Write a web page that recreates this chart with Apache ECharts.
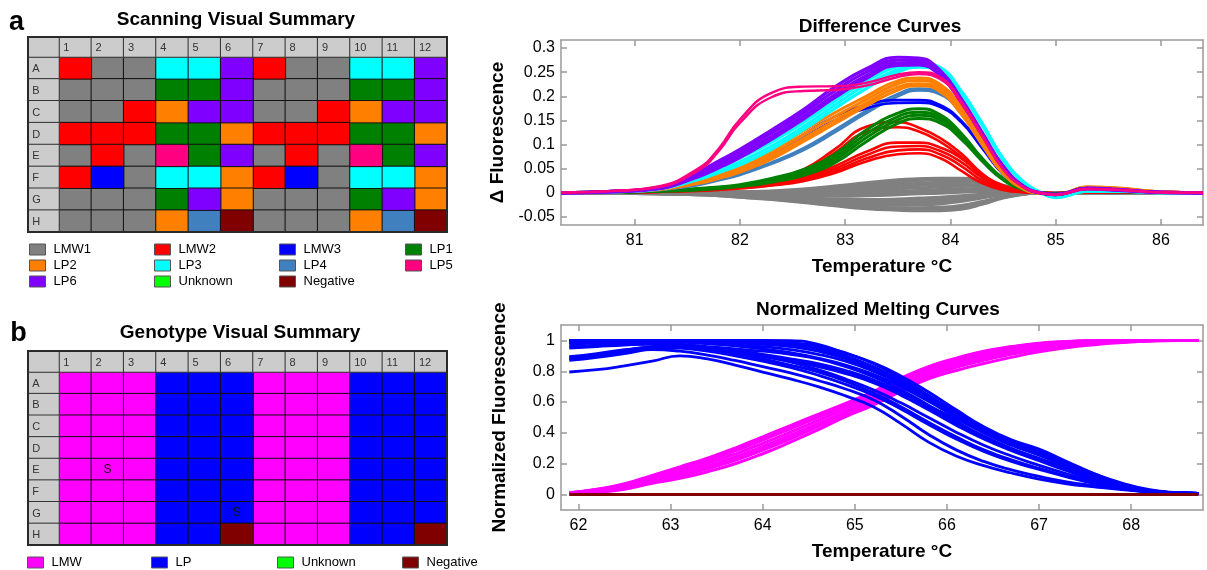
<!DOCTYPE html>
<html>
<head>
<meta charset="utf-8">
<title>Scanning and genotyping summary</title>
<script src="https://cdn.jsdelivr.net/npm/echarts@6/dist/echarts.min.js"></script>
<style>
  html, body { margin: 0; padding: 0; background: #fff; }
  #chart { width: 1207px; height: 570px; }
</style>
</head>
<body>
<div id="chart"></div>
<script>
// plate layout
const plateRows = ['A', 'B', 'C', 'D', 'E', 'F', 'G', 'H'];
const plateCols = ['1', '2', '3', '4', '5', '6', '7', '8', '9', '10', '11', '12'];

// panel a: scanning groups per well
const scanGroups = ['LMW1', 'LMW2', 'LMW3', 'LP1', 'LP2', 'LP3', 'LP4', 'LP5', 'LP6', 'Unknown', 'Negative'];
const scanPlate = [
  ['LMW2', 'LMW1', 'LMW1', 'LP3', 'LP3', 'LP6', 'LMW2', 'LMW1', 'LMW1', 'LP3', 'LP3', 'LP6'],
  ['LMW1', 'LMW1', 'LMW1', 'LP1', 'LP1', 'LP6', 'LMW1', 'LMW1', 'LMW1', 'LP1', 'LP1', 'LP6'],
  ['LMW1', 'LMW1', 'LMW2', 'LP2', 'LP6', 'LP6', 'LMW1', 'LMW1', 'LMW2', 'LP2', 'LP6', 'LP6'],
  ['LMW2', 'LMW2', 'LMW2', 'LP1', 'LP1', 'LP2', 'LMW2', 'LMW2', 'LMW2', 'LP1', 'LP1', 'LP2'],
  ['LMW1', 'LMW2', 'LMW1', 'LP5', 'LP1', 'LP6', 'LMW1', 'LMW2', 'LMW1', 'LP5', 'LP1', 'LP6'],
  ['LMW2', 'LMW3', 'LMW1', 'LP3', 'LP3', 'LP2', 'LMW2', 'LMW3', 'LMW1', 'LP3', 'LP3', 'LP2'],
  ['LMW1', 'LMW1', 'LMW1', 'LP1', 'LP6', 'LP2', 'LMW1', 'LMW1', 'LMW1', 'LP1', 'LP6', 'LP2'],
  ['LMW1', 'LMW1', 'LMW1', 'LP2', 'LP4', 'Negative', 'LMW1', 'LMW1', 'LMW1', 'LP2', 'LP4', 'Negative']
];
const scanLegendCols = [['LMW1', 'LP2', 'LP6'], ['LMW2', 'LP3', 'Unknown'], ['LMW3', 'LP4', 'Negative'], ['LP1', 'LP5']];

// panel b: genotype calls per well
const genoGroups = ['LMW', 'LP', 'Unknown', 'Negative'];
const genoPlate = [
  ['LMW', 'LMW', 'LMW', 'LP', 'LP', 'LP', 'LMW', 'LMW', 'LMW', 'LP', 'LP', 'LP'],
  ['LMW', 'LMW', 'LMW', 'LP', 'LP', 'LP', 'LMW', 'LMW', 'LMW', 'LP', 'LP', 'LP'],
  ['LMW', 'LMW', 'LMW', 'LP', 'LP', 'LP', 'LMW', 'LMW', 'LMW', 'LP', 'LP', 'LP'],
  ['LMW', 'LMW', 'LMW', 'LP', 'LP', 'LP', 'LMW', 'LMW', 'LMW', 'LP', 'LP', 'LP'],
  ['LMW', 'LMW', 'LMW', 'LP', 'LP', 'LP', 'LMW', 'LMW', 'LMW', 'LP', 'LP', 'LP'],
  ['LMW', 'LMW', 'LMW', 'LP', 'LP', 'LP', 'LMW', 'LMW', 'LMW', 'LP', 'LP', 'LP'],
  ['LMW', 'LMW', 'LMW', 'LP', 'LP', 'LP', 'LMW', 'LMW', 'LMW', 'LP', 'LP', 'LP'],
  ['LMW', 'LMW', 'LMW', 'LP', 'LP', 'Negative', 'LMW', 'LMW', 'LMW', 'LP', 'LP', 'Negative']
];
const genoFlags = [['E', '2', 'S'], ['G', '6', 'S']];
const genoLegend = [['LMW'], ['LP'], ['Unknown'], ['Negative']];

// difference curves (delta fluorescence vs temperature)
const diffTemps = [80.3, 80.8, 81.2, 81.6, 81.8, 82.0, 82.3, 82.6, 82.9, 83.2, 83.5, 83.7, 83.9, 84.1, 84.3, 84.5, 84.7, 84.85, 85.0, 85.3, 85.6, 86.0, 86.4];
const lmw1Diff = [
  [0, 0, 0.001, 0.001, 0.002, 0.002, 0.004, 0.008, 0.014, 0.021, 0.027, 0.029, 0.03, 0.03, 0.027, 0.016, 0.005, 0, 0, 0.002, 0.001, 0, 0],
  [0, 0, 0.001, 0.001, 0.002, 0.002, 0.003, 0.006, 0.012, 0.018, 0.025, 0.028, 0.029, 0.029, 0.026, 0.015, 0.004, 0, 0, 0.002, 0.001, 0, 0],
  [0, 0, 0.001, 0.001, 0.001, 0.001, 0.002, 0.005, 0.01, 0.016, 0.022, 0.025, 0.027, 0.027, 0.024, 0.014, 0.004, 0, 0, 0.001, 0.001, 0, 0],
  [0, 0, 0, 0, 0, 0, 0.001, 0.003, 0.007, 0.012, 0.017, 0.02, 0.022, 0.023, 0.02, 0.011, 0.003, 0, 0, 0.001, 0.001, 0, 0],
  [0, 0, 0, 0, 0.001, 0.001, 0.001, 0.002, 0.004, 0.008, 0.012, 0.015, 0.017, 0.018, 0.015, 0.008, 0.002, 0, 0, 0.001, 0, 0, 0],
  [0, 0, 0, 0, 0, -0.001, -0.001, 0, 0.001, 0.004, 0.008, 0.01, 0.012, 0.014, 0.012, 0.006, 0.002, 0, 0, 0.001, 0, 0, 0],
  [0, 0, 0, -0.001, -0.001, -0.002, -0.003, -0.003, -0.002, 0, 0.003, 0.005, 0.007, 0.009, 0.008, 0.004, 0.001, 0, 0, 0.001, 0, 0, 0],
  [0, 0, -0.001, -0.002, -0.002, -0.003, -0.004, -0.005, -0.004, -0.003, 0, 0.002, 0.003, 0.005, 0.005, 0.003, 0.001, 0, 0, 0, 0, 0, 0],
  [0, 0, -0.001, -0.002, -0.003, -0.004, -0.005, -0.006, -0.007, -0.006, -0.004, -0.002, -0.001, 0.001, 0.002, 0.001, 0, 0, 0, 0, 0, 0, 0],
  [0, 0, -0.001, -0.002, -0.003, -0.005, -0.007, -0.01, -0.013, -0.014, -0.013, -0.011, -0.009, -0.006, -0.003, 0, 0, 0, 0, 0, 0, 0, 0],
  [0, 0, -0.001, -0.002, -0.004, -0.005, -0.008, -0.011, -0.015, -0.017, -0.017, -0.015, -0.013, -0.009, -0.005, -0.001, 0, 0, 0, 0, 0, 0, 0],
  [0, 0, -0.001, -0.003, -0.004, -0.006, -0.009, -0.013, -0.017, -0.02, -0.02, -0.019, -0.016, -0.012, -0.007, -0.002, 0, 0, 0, 0, 0, 0, 0],
  [0, -0.001, -0.002, -0.003, -0.005, -0.007, -0.01, -0.014, -0.019, -0.022, -0.023, -0.022, -0.02, -0.015, -0.009, -0.003, 0, 0, 0, 0, 0, 0, 0],
  [0, 0, -0.001, -0.003, -0.005, -0.007, -0.011, -0.016, -0.021, -0.025, -0.026, -0.025, -0.023, -0.018, -0.011, -0.004, -0.001, 0, 0, 0, 0, 0, 0],
  [0, -0.001, -0.002, -0.004, -0.005, -0.008, -0.012, -0.018, -0.024, -0.029, -0.031, -0.031, -0.03, -0.026, -0.018, -0.008, -0.002, 0, 0, 0, 0, 0, 0],
  [0, -0.001, -0.002, -0.004, -0.006, -0.009, -0.013, -0.019, -0.026, -0.031, -0.034, -0.034, -0.034, -0.03, -0.021, -0.01, -0.003, 0, 0, 0, 0, 0, 0],
  [0, -0.001, -0.002, -0.004, -0.006, -0.009, -0.014, -0.02, -0.027, -0.033, -0.036, -0.037, -0.037, -0.034, -0.024, -0.011, -0.003, 0, 0, 0, 0, 0, 0]
];
const lmw2Diff = [
  [0, 0.001, 0.003, 0.007, 0.01, 0.014, 0.026, 0.048, 0.09, 0.137, 0.147, 0.135, 0.114, 0.082, 0.04, 0.012, 0.002, 0, -0.001, 0.002, 0.001, 0, 0],
  [0, 0.001, 0.003, 0.006, 0.009, 0.013, 0.024, 0.044, 0.083, 0.126, 0.136, 0.127, 0.106, 0.075, 0.036, 0.011, 0.002, 0, -0.001, 0.002, 0.001, 0, 0],
  [0, 0.001, 0.003, 0.006, 0.009, 0.012, 0.02, 0.032, 0.055, 0.085, 0.104, 0.104, 0.094, 0.072, 0.038, 0.015, 0.004, 0.001, -0.001, 0.002, 0.001, 0, 0],
  [0, 0.001, 0.002, 0.005, 0.008, 0.011, 0.018, 0.029, 0.05, 0.078, 0.096, 0.097, 0.087, 0.064, 0.032, 0.012, 0.003, 0.001, -0.001, 0.002, 0.001, 0, 0],
  [0, 0.001, 0.002, 0.005, 0.007, 0.01, 0.016, 0.026, 0.045, 0.071, 0.088, 0.09, 0.08, 0.056, 0.026, 0.009, 0.002, 0, -0.001, 0.002, 0.001, 0, 0],
  [0, 0.001, 0.002, 0.004, 0.006, 0.009, 0.015, 0.024, 0.041, 0.065, 0.08, 0.082, 0.072, 0.046, 0.02, 0.006, 0.001, 0, -0.001, 0.001, 0.001, 0, 0]
];
const lp1Diff = [
  [0, 0.002, 0.004, 0.009, 0.012, 0.017, 0.03, 0.048, 0.08, 0.13, 0.165, 0.174, 0.162, 0.124, 0.072, 0.03, 0.007, 0, -0.002, 0.004, 0.003, 0.001, 0],
  [0, 0.001, 0.004, 0.008, 0.011, 0.015, 0.027, 0.044, 0.074, 0.122, 0.158, 0.167, 0.156, 0.12, 0.07, 0.029, 0.007, 0, -0.002, 0.004, 0.003, 0.001, 0],
  [0, 0.001, 0.003, 0.007, 0.01, 0.014, 0.024, 0.04, 0.068, 0.114, 0.151, 0.161, 0.151, 0.116, 0.068, 0.028, 0.006, 0, -0.002, 0.003, 0.003, 0.001, 0],
  [0, 0.001, 0.003, 0.006, 0.009, 0.013, 0.022, 0.036, 0.062, 0.106, 0.144, 0.154, 0.145, 0.112, 0.066, 0.027, 0.006, 0, -0.002, 0.003, 0.002, 0.001, 0]
];
const lp4Diff = [
  [0, 0.002, 0.006, 0.018, 0.028, 0.04, 0.063, 0.092, 0.13, 0.17, 0.205, 0.216, 0.207, 0.166, 0.102, 0.041, 0.008, -0.001, -0.004, 0.009, 0.008, 0.002, 0],
  [0, 0.002, 0.005, 0.016, 0.026, 0.037, 0.06, 0.088, 0.125, 0.165, 0.2, 0.212, 0.204, 0.164, 0.1, 0.04, 0.008, -0.001, -0.004, 0.009, 0.007, 0.002, 0]
];
const lmw3Diff = [
  [0, 0.002, 0.007, 0.022, 0.035, 0.05, 0.08, 0.12, 0.158, 0.182, 0.192, 0.192, 0.182, 0.15, 0.095, 0.04, 0.008, -0.001, -0.003, 0.006, 0.005, 0.001, 0],
  [0, 0.002, 0.006, 0.02, 0.032, 0.046, 0.075, 0.113, 0.15, 0.175, 0.186, 0.187, 0.178, 0.147, 0.093, 0.039, 0.008, -0.001, -0.003, 0.006, 0.005, 0.001, 0]
];
const lp2Diff = [
  [0, 0.003, 0.009, 0.027, 0.041, 0.058, 0.088, 0.128, 0.166, 0.2, 0.232, 0.238, 0.225, 0.178, 0.11, 0.045, 0.009, -0.001, -0.005, 0.012, 0.01, 0.002, 0],
  [0, 0.003, 0.008, 0.024, 0.037, 0.052, 0.082, 0.12, 0.158, 0.193, 0.226, 0.233, 0.22, 0.172, 0.106, 0.043, 0.008, -0.001, -0.005, 0.012, 0.009, 0.002, 0],
  [0, 0.002, 0.007, 0.021, 0.033, 0.047, 0.076, 0.112, 0.15, 0.186, 0.219, 0.226, 0.214, 0.167, 0.103, 0.041, 0.008, -0.001, -0.004, 0.011, 0.009, 0.002, 0],
  [0, 0.002, 0.006, 0.019, 0.03, 0.043, 0.07, 0.106, 0.143, 0.18, 0.213, 0.222, 0.21, 0.164, 0.1, 0.04, 0.007, -0.001, -0.004, 0.011, 0.008, 0.002, 0]
];
const lp3Diff = [
  [0, 0.003, 0.009, 0.035, 0.052, 0.072, 0.105, 0.145, 0.19, 0.232, 0.262, 0.27, 0.26, 0.212, 0.145, 0.072, 0.022, 0.002, -0.009, 0.004, 0.004, 0, 0],
  [0, 0.002, 0.008, 0.03, 0.046, 0.064, 0.097, 0.137, 0.182, 0.224, 0.256, 0.265, 0.256, 0.209, 0.143, 0.07, 0.021, 0.001, -0.01, 0.003, 0.003, 0, 0],
  [0, 0.002, 0.007, 0.027, 0.042, 0.058, 0.09, 0.13, 0.174, 0.216, 0.25, 0.26, 0.252, 0.206, 0.14, 0.068, 0.02, 0.001, -0.009, 0.003, 0.003, 0, 0]
];
const lp6Diff = [
  [0, 0.003, 0.01, 0.044, 0.066, 0.09, 0.13, 0.172, 0.219, 0.257, 0.281, 0.279, 0.254, 0.196, 0.126, 0.056, 0.013, 0, -0.004, 0.01, 0.007, 0.001, 0],
  [0, 0.003, 0.009, 0.04, 0.061, 0.084, 0.124, 0.165, 0.211, 0.25, 0.275, 0.274, 0.25, 0.193, 0.124, 0.055, 0.012, 0, -0.004, 0.009, 0.006, 0.001, 0],
  [0, 0.003, 0.008, 0.036, 0.056, 0.078, 0.117, 0.158, 0.203, 0.243, 0.269, 0.269, 0.246, 0.19, 0.122, 0.054, 0.012, 0, -0.004, 0.009, 0.006, 0.001, 0],
  [0, 0.002, 0.008, 0.033, 0.052, 0.073, 0.111, 0.152, 0.197, 0.237, 0.264, 0.265, 0.243, 0.188, 0.12, 0.053, 0.012, 0, -0.003, 0.008, 0.005, 0.001, 0]
];
const lp5Diff = [
  [0, 0.004, 0.012, 0.05, 0.092, 0.152, 0.207, 0.22, 0.221, 0.228, 0.245, 0.25, 0.24, 0.19, 0.12, 0.05, 0.011, 0, -0.004, 0.008, 0.006, 0.001, 0],
  [0, 0.004, 0.011, 0.046, 0.087, 0.145, 0.198, 0.211, 0.213, 0.222, 0.24, 0.246, 0.236, 0.187, 0.118, 0.049, 0.011, 0, -0.004, 0.008, 0.006, 0.001, 0]
];
const diffTicksX = [81, 82, 83, 84, 85, 86];
const diffTicksY = [-0.05, 0, 0.05, 0.1, 0.15, 0.2, 0.25, 0.3];

// normalized melting curves
const meltTemps = [61.9, 62.2, 62.5, 62.8, 63.1, 63.4, 63.7, 64.0, 64.3, 64.6, 64.9, 65.2, 65.5, 65.8, 66.1, 66.4, 66.7, 67.0, 67.3, 67.6, 67.9, 68.2, 68.5, 68.73];
const lmwMelt = [
  [0.012, 0.035, 0.07, 0.125, 0.18, 0.237, 0.302, 0.375, 0.448, 0.52, 0.592, 0.668, 0.755, 0.83, 0.885, 0.93, 0.96, 0.982, 0.993, 0.998, 1, 1, 1, 1],
  [0.01, 0.033, 0.066, 0.12, 0.173, 0.228, 0.292, 0.364, 0.437, 0.51, 0.583, 0.659, 0.746, 0.822, 0.878, 0.925, 0.956, 0.979, 0.991, 0.997, 1, 1, 1, 1],
  [0.011, 0.031, 0.063, 0.115, 0.166, 0.22, 0.283, 0.353, 0.426, 0.5, 0.574, 0.65, 0.737, 0.814, 0.872, 0.92, 0.952, 0.976, 0.99, 0.997, 1, 1, 1, 1],
  [0.009, 0.027, 0.056, 0.104, 0.152, 0.203, 0.263, 0.332, 0.405, 0.48, 0.556, 0.632, 0.72, 0.798, 0.86, 0.907, 0.942, 0.968, 0.984, 0.993, 0.998, 1, 1, 1],
  [0.008, 0.023, 0.049, 0.094, 0.138, 0.186, 0.245, 0.312, 0.385, 0.46, 0.538, 0.614, 0.703, 0.782, 0.845, 0.893, 0.93, 0.959, 0.978, 0.99, 0.996, 0.999, 1, 1],
  [0.007, 0.021, 0.045, 0.088, 0.13, 0.177, 0.233, 0.3, 0.373, 0.45, 0.529, 0.605, 0.694, 0.774, 0.835, 0.882, 0.92, 0.951, 0.972, 0.985, 0.994, 0.998, 1, 1],
  [0.006, 0.019, 0.042, 0.083, 0.121, 0.167, 0.222, 0.288, 0.362, 0.44, 0.52, 0.597, 0.686, 0.766, 0.825, 0.871, 0.91, 0.943, 0.966, 0.981, 0.991, 0.997, 1, 1],
  [0.005, 0.015, 0.035, 0.073, 0.105, 0.148, 0.2, 0.265, 0.34, 0.42, 0.505, 0.58, 0.67, 0.75, 0.805, 0.85, 0.89, 0.926, 0.953, 0.972, 0.986, 0.996, 1, 1]
];
const lpMelt = [
  [1, 1, 1, 1, 1, 1, 1, 1, 0.998, 0.975, 0.915, 0.855, 0.77, 0.665, 0.55, 0.44, 0.355, 0.295, 0.215, 0.135, 0.07, 0.028, 0.012, 0.008],
  [1, 1, 1, 1, 1, 1, 0.998, 0.993, 0.985, 0.965, 0.92, 0.85, 0.755, 0.645, 0.535, 0.43, 0.345, 0.28, 0.205, 0.13, 0.066, 0.027, 0.012, 0.008],
  [0.99, 0.995, 1, 1, 1, 0.998, 0.995, 0.99, 0.98, 0.955, 0.9, 0.83, 0.74, 0.635, 0.525, 0.42, 0.335, 0.27, 0.195, 0.12, 0.062, 0.025, 0.011, 0.008],
  [1, 1, 1, 1, 0.998, 0.995, 0.99, 0.985, 0.972, 0.945, 0.895, 0.825, 0.735, 0.63, 0.52, 0.42, 0.335, 0.268, 0.195, 0.122, 0.063, 0.026, 0.011, 0.008],
  [0.995, 1, 1, 1, 0.995, 0.99, 0.985, 0.975, 0.96, 0.93, 0.88, 0.81, 0.72, 0.62, 0.515, 0.415, 0.33, 0.26, 0.185, 0.11, 0.058, 0.024, 0.011, 0.008],
  [1, 1, 1, 0.995, 0.99, 0.98, 0.97, 0.96, 0.94, 0.91, 0.865, 0.8, 0.715, 0.615, 0.51, 0.41, 0.33, 0.265, 0.19, 0.115, 0.06, 0.025, 0.011, 0.008],
  [0.985, 0.99, 0.995, 0.995, 0.99, 0.98, 0.965, 0.945, 0.92, 0.885, 0.84, 0.78, 0.7, 0.605, 0.5, 0.4, 0.32, 0.255, 0.18, 0.108, 0.056, 0.023, 0.011, 0.008],
  [0.975, 0.985, 0.99, 0.985, 0.975, 0.96, 0.945, 0.93, 0.91, 0.88, 0.83, 0.765, 0.68, 0.58, 0.475, 0.38, 0.3, 0.235, 0.17, 0.105, 0.055, 0.022, 0.01, 0.008],
  [0.96, 0.97, 0.98, 0.98, 0.97, 0.955, 0.935, 0.91, 0.88, 0.85, 0.805, 0.745, 0.665, 0.565, 0.465, 0.37, 0.29, 0.225, 0.16, 0.1, 0.052, 0.021, 0.01, 0.008],
  [1, 1, 0.995, 0.985, 0.97, 0.95, 0.925, 0.9, 0.87, 0.835, 0.79, 0.735, 0.66, 0.575, 0.49, 0.405, 0.33, 0.27, 0.205, 0.135, 0.075, 0.032, 0.013, 0.008],
  [0.95, 0.96, 0.97, 0.975, 0.965, 0.945, 0.92, 0.895, 0.865, 0.83, 0.785, 0.725, 0.645, 0.55, 0.45, 0.36, 0.285, 0.22, 0.155, 0.095, 0.05, 0.02, 0.01, 0.008],
  [0.89, 0.91, 0.935, 0.96, 0.97, 0.955, 0.93, 0.9, 0.86, 0.81, 0.75, 0.68, 0.595, 0.5, 0.405, 0.32, 0.25, 0.19, 0.135, 0.085, 0.045, 0.019, 0.01, 0.008],
  [0.895, 0.915, 0.94, 0.955, 0.95, 0.93, 0.9, 0.865, 0.825, 0.775, 0.715, 0.645, 0.555, 0.455, 0.36, 0.28, 0.215, 0.163, 0.115, 0.072, 0.039, 0.017, 0.009, 0.008],
  [0.87, 0.89, 0.915, 0.945, 0.955, 0.94, 0.915, 0.88, 0.84, 0.795, 0.735, 0.66, 0.57, 0.47, 0.375, 0.29, 0.225, 0.17, 0.12, 0.075, 0.04, 0.017, 0.009, 0.008],
  [0.88, 0.9, 0.925, 0.94, 0.93, 0.905, 0.87, 0.83, 0.79, 0.74, 0.685, 0.615, 0.51, 0.39, 0.29, 0.215, 0.16, 0.118, 0.083, 0.058, 0.036, 0.02, 0.011, 0.008],
  [0.795, 0.81, 0.835, 0.865, 0.9, 0.88, 0.84, 0.795, 0.75, 0.7, 0.64, 0.57, 0.46, 0.34, 0.25, 0.188, 0.14, 0.1, 0.07, 0.05, 0.032, 0.018, 0.01, 0.008]
];
const negMelt = [
  [0, 0, 0, 0, 0, 0, 0, 0, 0, 0, 0, 0, 0, 0, 0, 0, 0, 0, 0, 0, 0, 0, 0, 0]
];
const meltTicksX = [62, 63, 64, 65, 66, 67, 68];
const meltTicksY = [0, 0.2, 0.4, 0.6, 0.8, 1];

const FONT = "'Liberation Sans', Arial, Helvetica, sans-serif";
const groupColors = {
  LMW1: '#808080', LMW2: '#ff0000', LMW3: '#0000ff', LP1: '#008000', LP2: '#ff8000',
  LP3: '#00ffff', LP4: '#4080bf', LP5: '#ff0080', LP6: '#8000ff', Unknown: '#00ff00',
  Negative: '#800000', LMW: '#ff00ff', LP: '#0000ff'
};

const grids = [];
const xAxes = [];
const yAxes = [];
const series = [];
const legends = [];

// ---- line panels: grid 0 (difference), grid 1 (normalized) ----
function frameAxis(gridIndex, range, ticks, position, extra) {
  return Object.assign({
    type: 'value', gridIndex: gridIndex, min: range[0], max: range[1], position: position,
    axisLine: { show: true, onZero: false, lineStyle: { color: '#999', width: 1.5 } },
    axisTick: { show: true, inside: true, length: 6, customValues: ticks, lineStyle: { color: '#999', width: 1.5 } },
    axisLabel: { show: false },
    splitLine: { show: false },
    axisPointer: { show: false }
  }, extra || {});
}
function tickLabels(ticks, margin) {
  return { show: true, customValues: ticks, margin: margin, color: '#000', fontSize: 16, fontFamily: FONT };
}
const nameStyle = { color: '#000', fontSize: 19, fontWeight: 'bold', fontFamily: FONT };

function addLinePanel(box, xRange, yRange, xTicks, yTicks, yName) {
  const gi = grids.length;
  grids.push(Object.assign({ outerBoundsMode: 'none', containLabel: false }, box));
  xAxes.push(frameAxis(gi, xRange, xTicks, 'bottom', {
    axisLabel: tickLabels(xTicks, 8),
    name: 'Temperature \u00B0C', nameLocation: 'middle', nameGap: 32, nameTextStyle: nameStyle
  }));
  xAxes.push(frameAxis(gi, xRange, xTicks, 'top'));
  yAxes.push(frameAxis(gi, yRange, yTicks, 'left', {
    axisLabel: tickLabels(yTicks, 6),
    name: yName, nameLocation: 'middle', nameGap: 52, nameTextStyle: nameStyle
  }));
  yAxes.push(frameAxis(gi, yRange, yTicks, 'right'));
  return xAxes.length - 2;
}

function addCurves(axisIndex, temps, curves, color, width) {
  curves.forEach(function (vals) {
    series.push({
      type: 'line', xAxisIndex: axisIndex, yAxisIndex: axisIndex,
      data: temps.map(function (t, i) { return [t, vals[i]]; }),
      showSymbol: false, smooth: 0.5, silent: true,
      lineStyle: { color: color, width: width || 2.4 },
      itemStyle: { color: color }
    });
  });
}

const diffAx = addLinePanel({ left: 561, top: 40, width: 642, height: 185 },
  [80.3, 86.4], [-0.0667, 0.3167], diffTicksX, diffTicksY, '\u0394 Fluorescence');
addCurves(diffAx, diffTemps, lmw1Diff, groupColors.LMW1, 3);
addCurves(diffAx, diffTemps, lmw2Diff, groupColors.LMW2, 2.6);
addCurves(diffAx, diffTemps, lp1Diff, groupColors.LP1, 3);
addCurves(diffAx, diffTemps, lp4Diff, groupColors.LP4, 2.6);
addCurves(diffAx, diffTemps, lmw3Diff, groupColors.LMW3, 2.6);
addCurves(diffAx, diffTemps, lp2Diff, groupColors.LP2, 3);
addCurves(diffAx, diffTemps, lp3Diff, groupColors.LP3, 3);
addCurves(diffAx, diffTemps, lp6Diff, groupColors.LP6, 3.2);
addCurves(diffAx, diffTemps, lp5Diff, groupColors.LP5, 2.4);

const meltAx = addLinePanel({ left: 561, top: 325, width: 642, height: 185 },
  [61.81, 68.78], [-0.1, 1.1], meltTicksX, meltTicksY, 'Normalized Fluorescence');
addCurves(meltAx, meltTemps, lmwMelt, groupColors.LMW, 3);
addCurves(meltAx, meltTemps, lpMelt, groupColors.LP, 2.8);
addCurves(meltAx, meltTemps, negMelt, groupColors.Negative, 3);

// ---- plate panels ----
function addCategoryGrid(box, xCats, yCats) {
  const gi = grids.length;
  grids.push(Object.assign({ outerBoundsMode: 'none', containLabel: false }, box));
  xAxes.push({ type: 'category', gridIndex: gi, data: xCats, show: false });
  yAxes.push({ type: 'category', gridIndex: gi, data: yCats, show: false, inverse: true });
  return xAxes.length - 1;
}

function addHeaderCells(axisIndex, data, texts) {
  series.push({
    type: 'heatmap', xAxisIndex: axisIndex, yAxisIndex: axisIndex, data: data, silent: true,
    itemStyle: { color: '#cccccc', borderColor: '#333', borderWidth: 1 },
    label: {
      show: true, position: 'insideLeft', distance: 5, offset: [0, 1], color: '#333', fontSize: 11, fontFamily: FONT,
      formatter: function (p) { return texts[p.dataIndex]; }
    },
    emphasis: { disabled: true }
  });
}

function addPlate(box, plate, groups, flags) {
  const cellLeft = box.left + box.labelW;
  const cellWidth = box.width - box.labelW;
  const body = addCategoryGrid({ left: cellLeft, top: box.top + box.headH, width: cellWidth, height: box.height - box.headH }, plateCols, plateRows);
  groups.forEach(function (g) {
    const data = [];
    plate.forEach(function (row, r) {
      row.forEach(function (v, c) {
        if (v !== g) return;
        const flag = flags.find(function (f) { return f[0] === plateRows[r] && f[1] === plateCols[c]; });
        data.push(flag ? { value: [c, r, 1], label: { show: true, formatter: flag[2] } } : [c, r, 1]);
      });
    });
    series.push({
      type: 'heatmap', name: g, xAxisIndex: body, yAxisIndex: body, data: data, silent: true,
      itemStyle: { color: groupColors[g], borderColor: '#111', borderWidth: 1 },
      label: { show: false, color: '#111', fontSize: 12, fontFamily: FONT },
      emphasis: { disabled: true }
    });
  });
  const head = addCategoryGrid({ left: cellLeft, top: box.top, width: cellWidth, height: box.headH }, plateCols, ['']);
  addHeaderCells(head, plateCols.map(function (c, i) { return [i, 0, 1]; }), plateCols);
  const side = addCategoryGrid({ left: box.left, top: box.top + box.headH, width: box.labelW, height: box.height - box.headH }, [''], plateRows);
  addHeaderCells(side, plateRows.map(function (r, i) { return [0, i, 1]; }), plateRows);
  const corner = addCategoryGrid({ left: box.left, top: box.top, width: box.labelW, height: box.headH }, [''], ['']);
  addHeaderCells(corner, [[0, 0, 1]], ['']);
  // outer frame drawn above the cells
  grids.push({ left: box.left, top: box.top, width: box.width, height: box.height, show: true, z: 10,
    backgroundColor: 'transparent', borderColor: '#2a2a2a', borderWidth: 2, outerBoundsMode: 'none' });
}

function addLegend(left, top, names) {
  legends.push({
    left: left, top: top, orient: 'vertical', data: names, padding: 0, itemGap: 3,
    itemWidth: 16, itemHeight: 11, icon: 'rect', selectedMode: false,
    itemStyle: { borderColor: '#555', borderWidth: 1 },
    textStyle: { color: '#000', fontSize: 13, fontFamily: FONT, padding: [0, 0, 0, 3] }
  });
}

addPlate({ left: 28, top: 37, width: 419, height: 195, headH: 20, labelW: 31 }, scanPlate, scanGroups, []);
addPlate({ left: 28, top: 351, width: 419, height: 194, headH: 21, labelW: 31 }, genoPlate, genoGroups, genoFlags);

[29, 154, 279, 405].forEach(function (x, i) { addLegend(x, 243, scanLegendCols[i]); });
[27, 151, 277, 402].forEach(function (x, i) { addLegend(x, 556, genoLegend[i]); });

const titleSpecs = [
  { text: 'a', x: 16.5, y: 22.5, size: 27 },
  { text: 'Scanning Visual Summary', x: 236, y: 19.5, size: 19 },
  { text: 'b', x: 18.5, y: 334, size: 27 },
  { text: 'Genotype Visual Summary', x: 240, y: 333, size: 19 },
  { text: 'Difference Curves', x: 880, y: 26.5, size: 19 },
  { text: 'Normalized Melting Curves', x: 878, y: 310, size: 19 }
];

const chart = echarts.init(document.getElementById('chart'));
chart.setOption({
  animation: false,
  backgroundColor: '#fff',
  title: titleSpecs.map(function (t) {
    return {
      text: t.text, left: t.x, top: t.y, padding: 0, textAlign: 'center', textVerticalAlign: 'middle',
      textStyle: { color: '#000', fontSize: t.size, fontWeight: 'bold', fontFamily: FONT }
    };
  }),
  legend: legends,
  grid: grids,
  xAxis: xAxes,
  yAxis: yAxes,
  series: series
});
</script>
</body>
</html>
